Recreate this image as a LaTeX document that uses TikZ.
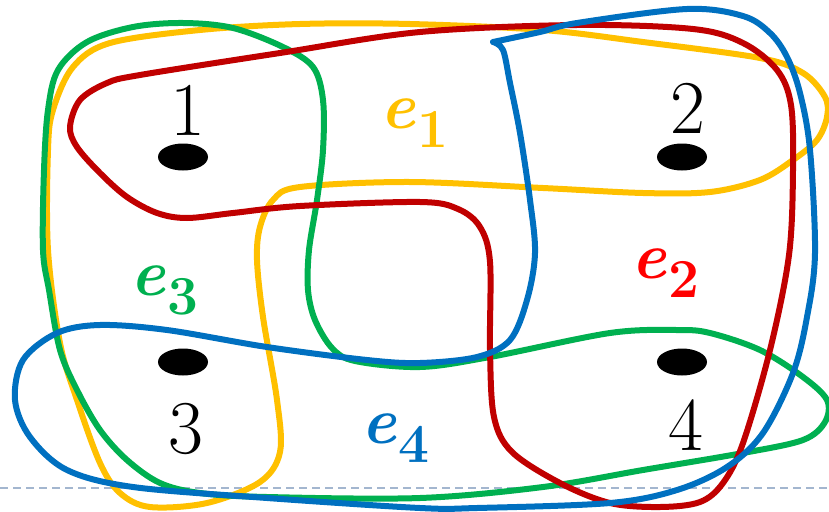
\documentclass[tikz,border=0pt]{standalone}
\usepackage{fontspec}
\usetikzlibrary{shapes.geometric}
\definecolor{eorange}{HTML}{FFC000}
\definecolor{ered}{HTML}{C00000}
\definecolor{egreen}{HTML}{00B050}
\definecolor{eblue}{HTML}{0070C0}
\definecolor{lblred}{HTML}{FF0000}
\definecolor{dashc}{HTML}{A3B6CF}
\newcommand{\elab}[1]{{\fontsize{66}{66}\selectfont\bfseries\itshape e}\kern2pt\raisebox{-19pt}{\fontsize{55}{55}\selectfont\bfseries #1}}
\tikzset{
  edgeline/.style={line width=6pt, line join=round, line cap=round},
  dotnode/.style={ellipse, fill=black, minimum width=50pt, minimum height=27pt, inner sep=0pt},
  numlabel/.style={anchor=base, inner sep=0pt, font=\fontsize{76}{76}\selectfont},
  elabel/.style={anchor=base west, inner sep=0pt}
}
\begin{document}
\begin{tikzpicture}[x=1pt,y=-1pt]
\useasboundingbox (0,0) rectangle (829,511);
% dashed guide line
\coordinate (dl) at (0,488);
\coordinate (dr) at (829,488);
\draw[dashc, line width=1.4pt, dash pattern=on 8pt off 5pt] (dl) -- (dr);
% e1 orange
\draw[edgeline, eorange] plot[smooth cycle, tension=0.55] coordinates {
 (48,150) (53,110) (73,67) (110,43) (200,30) (300,24) (410,24) (543,30) (643,42) (760,58) (803,73) (825,97) (827,117) (817,140) (793,160) (760,180) (710,192) (643,193) (543,188) (410,182) (300,187) (273,200) (260,227) (257,260) (263,317) (277,400) (280,452) (260,482) (207,503) (150,507) (120,493) (100,463) (77,400) (60,343) (48,250)};
% e3 green
\draw[edgeline, egreen] plot[smooth cycle, tension=0.55] coordinates {
 (44,170) (48,110) (58,70) (87,42) (133,27) (183,23) (233,28) (283,47) (313,67) (323,100) (323,150) (317,200) (309,250) (308,290) (315,320) (332,348) (355,361) (420,367) (490,357) (610,333) (677,330) (710,333) (760,350) (803,377) (827,400) (825,422) (803,440) (743,453) (643,470) (543,487) (420,498) (267,497) (200,493) (160,483) (127,460) (100,430) (77,390) (60,350) (49,290) (43,250)};
% e2 red
\draw[edgeline, ered] plot[smooth cycle, tension=0.55] coordinates {
 (70,127) (80,100) (107,83) (140,75) (280,53) (420,32) (577,25) (693,29) (743,43) (777,70) (791,105) (793,170) (789,255) (770,350) (743,443) (723,483) (700,502) (660,507) (610,503) (560,483) (512,452) (494,417) (490,350) (490,262) (480,227) (458,209) (420,202) (300,206) (233,213) (187,218) (157,213) (127,197) (100,173) (77,147)};
% e4 blue
\draw[edgeline, eblue] plot[smooth, tension=0.55] coordinates {
 (493,42) (540,32) (577,23) (687,9) (743,16) (770,33) (787,57) (800,93) (810,150) (815,253) (807,317) (793,373) (763,433) (727,467) (677,490) (610,503) (477,508) (420,508) (267,498) (133,487) (67,470) (30,437) (15,400) (23,360) (57,333) (100,325) (167,330) (267,347) (367,360) (420,363) (477,357) (510,340) (527,300) (535,253) (530,200) (520,133) (510,83) (503,50) (493,42)};
% vertices
\node[dotnode] (v1) at (183,157) {};
\node[dotnode] (v2) at (682,157) {};
\node[dotnode] (v3) at (183,362) {};
\node[dotnode] (v4) at (682,362) {};
\node[numlabel] (n1) at (188,135) {1};
\node[numlabel] (n2) at (688,133) {2};
\node[numlabel] (n3) at (186,453) {3};
\node[numlabel] (n4) at (686,450) {4};
% edge labels
\node[elabel, text=eorange] (l1) at (380,128) {\elab{1}};
\node[elabel, text=lblred] (l2) at (631,278) {\elab{2}};
\node[elabel, text=egreen] (l3) at (130,295) {\elab{3}};
\node[elabel, text=eblue] (l4) at (361,443) {\elab{4}};
\end{tikzpicture}
\end{document}
